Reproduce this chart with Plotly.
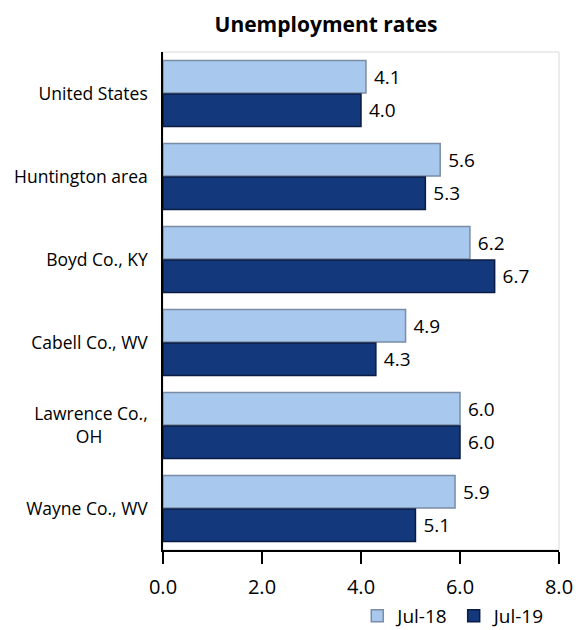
import plotly.graph_objects as go

categories = ["United States", "Huntington area", "Boyd Co., KY", "Cabell Co., WV",
              "Lawrence Co.,<br>OH" + "\u00a0" * 10, "Wayne Co., WV"]
jul18 = [4.1, 5.6, 6.2, 4.9, 6.0, 5.9]
jul19 = [4.0, 5.3, 6.7, 4.3, 6.0, 5.1]
tick_vals = [0, 2, 4, 6, 8]
tick_text = ["0.0", "2.0", "4.0", "6.0", "8.0"]

FONT = "Open Sans, Calibri, sans-serif"

fig = go.Figure()
fig.add_trace(go.Bar(
    y=categories, x=jul18, orientation="h", name="Jul-18",
    marker=dict(color="#a9c8ee", line=dict(color="#7a8ca6", width=1.5)),
    text=[f"\u00a0{v:.1f}" for v in jul18], textposition="outside",
    textfont=dict(size=19, color="#000000", family=FONT), cliponaxis=False,
))
fig.add_trace(go.Bar(
    y=categories, x=jul19, orientation="h", name="Jul-19",
    marker=dict(color="#14387c", line=dict(color="#0a1c44", width=1.5)),
    text=[f"\u00a0{v:.1f}" for v in jul19], textposition="outside",
    textfont=dict(size=19, color="#000000", family=FONT), cliponaxis=False,
))

fig.update_layout(
    width=576, height=630,
    margin=dict(l=163, r=17, t=52, b=80, autoexpand=False),
    paper_bgcolor="white", plot_bgcolor="white",
    barmode="group", bargap=0.19, bargroupgap=0.03,
    font=dict(family=FONT, color="#000000"),
    title=dict(text="<b>Unemployment rates</b>", xref="container", x=326 / 576,
               xanchor="center", yref="container", y=1 - 25 / 630, yanchor="middle",
               font=dict(size=21, family=FONT)),
    legend=dict(orientation="h", xref="paper", x=0.978, xanchor="right",
                yref="container", y=(630 - 597) / 630, yanchor="top",
                font=dict(size=19, family=FONT), traceorder="normal",
                itemwidth=30),
    shapes=[dict(type="rect", xref="paper", yref="paper", x0=0, x1=1, y0=0, y1=1,
                 line=dict(color="#d9d9d9", width=1), layer="below")],
)
fig.update_xaxes(range=[0, 8], tickvals=tick_vals, ticktext=tick_text,
                 showgrid=False, zeroline=False, showline=True, linecolor="#000000",
                 linewidth=1.5, ticks="outside", ticklen=12, tickwidth=1.5,
                 tickcolor="#000000", tickfont=dict(size=20, family=FONT),
                 ticklabelstandoff=6, automargin=False)
fig.update_yaxes(categoryorder="array", categoryarray=categories, autorange="reversed",
                 showgrid=False, showline=True, linecolor="#000000", linewidth=1.5,
                 ticks="", tickfont=dict(size=17.5, family=FONT),
                 ticklabelstandoff=10, automargin=False)

fig.write_html("out.html", config={"displayModeBar": False},
               post_script="document.body.style.margin='0px';")
